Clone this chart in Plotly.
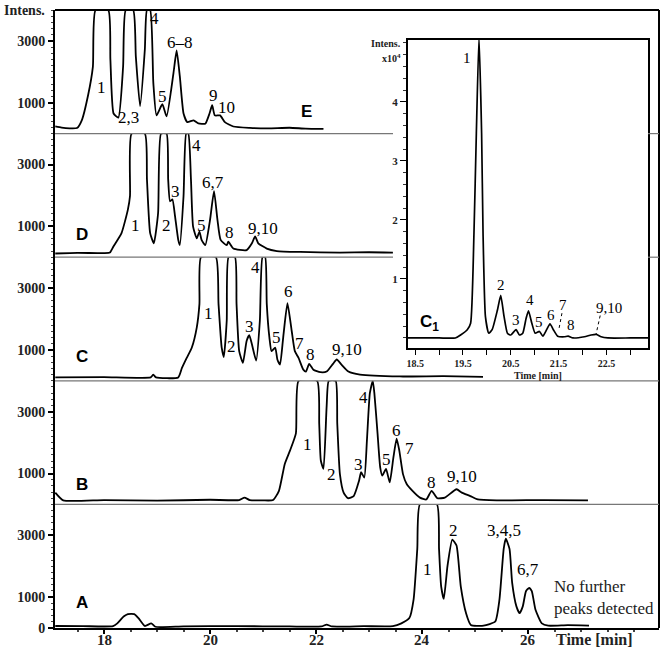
import plotly.graph_objects as go

# ---------------- data (time [min], intensity) ----------------
E_time = [17.08, 17.2, 17.35, 17.49, 17.58, 17.70, 17.79, 17.84, 18.08, 18.12,
          18.18, 18.27, 18.36, 18.41, 18.55, 18.60, 18.68, 18.77, 18.81, 18.87,
          18.93, 18.99, 19.10, 19.18, 19.31, 19.37, 19.43, 19.50, 19.57, 19.69,
          19.78, 19.91, 19.99, 20.04, 20.09, 20.19, 20.28, 20.44, 20.75, 21.1,
          21.5, 21.8, 22.14]
E_int = [230, 190, 170, 180, 430, 1250, 2170, 4000, 4000, 2400,
         650, 515, 2170, 4000, 4000, 2500, 885, 2720, 4000, 4000,
         1640, 590, 950, 560, 1960, 2690, 1850, 650, 370, 430,
         330, 320, 650, 920, 590, 590, 370, 230, 185, 170,
         190, 160, 150]

D_time = [17.08, 17.5, 18.0, 18.11, 18.175, 18.33, 18.45, 18.49, 18.52, 18.77,
          18.81, 18.87, 18.94, 19.02, 19.075, 19.18, 19.21, 19.245, 19.29, 19.34,
          19.40, 19.43, 19.50, 19.55, 19.59, 19.64, 19.68, 19.75, 19.80, 19.84,
          19.91, 20.0, 20.075, 20.14, 20.20, 20.315, 20.345, 20.44, 20.69, 20.79,
          20.85, 20.91, 21.07, 21.26, 21.7, 22.45, 23.0, 23.45]
D_int = [120, 140, 130, 150, 340, 780, 1540, 1980, 4000, 4000,
         2520, 780, 450, 1430, 4000, 4000, 2520, 1810, 1870, 1320,
         560, 390, 1980, 4000, 4000, 2520, 990, 610, 830, 560,
         390, 1210, 2140, 1210, 560, 390, 500, 280, 230, 450,
         670, 450, 280, 200, 170, 150, 160, 150]

C_time = [17.08, 18.0, 18.88, 18.93, 18.98, 19.40, 19.47, 19.56, 19.655, 19.75,
          19.80, 19.83, 20.11, 20.16, 20.22, 20.26, 20.315, 20.35, 20.47, 20.50,
          20.55, 20.62, 20.69, 20.74, 20.79, 20.87, 20.94, 20.99, 21.04, 21.07,
          21.12, 21.16, 21.23, 21.27, 21.32, 21.38, 21.46, 21.54, 21.60, 21.67,
          21.76, 21.81, 21.87, 21.95, 22.08, 22.20, 22.32, 22.39, 22.48, 22.61,
          22.83, 23.58, 24.4, 25.15]
C_int = [110, 120, 110, 200, 110, 110, 415, 740, 1070, 1730,
         2490, 4000, 4000, 2490, 1070, 770, 1950, 4000, 4000, 2490,
         960, 580, 1290, 1475, 1180, 650, 1950, 4000, 4000, 2490,
         1400, 960, 1070, 690, 525, 1400, 2510, 1620, 960, 740,
         360, 300, 550, 360, 280, 300, 550, 690, 525, 300,
         200, 140, 150, 130]

B_time = [17.08, 17.23, 18.0, 19.0, 20.0, 20.55, 20.65, 20.75, 21.0, 21.19,
          21.30, 21.41, 21.51, 21.62, 21.67, 22.02, 22.06, 22.09, 22.14, 22.20,
          22.24, 22.37, 22.40, 22.45, 22.52, 22.60, 22.71, 22.81, 22.85, 22.91,
          22.96, 23.015, 23.07, 23.10, 23.16, 23.21, 23.25, 23.32, 23.39, 23.46,
          23.52, 23.57, 23.64, 23.71, 23.82, 23.96, 24.08, 24.18, 24.29, 24.43,
          24.65, 24.75, 24.91, 25.05, 25.41, 26.3, 27.13]
B_int = [380, 130, 140, 120, 150, 140, 220, 140, 130, 140,
         440, 1310, 1750, 2300, 4000, 4000, 2600, 1420, 1150, 3180,
         4000, 4000, 2620, 980, 380, 200, 270, 760, 1040, 870,
         2080, 3600, 4000, 3600, 2300, 1200, 930, 1150, 710, 1530,
         2130, 1750, 980, 660, 440, 220, 160, 440, 200, 220,
         490, 380, 270, 160, 130, 140, 130]

A_time = [17.08, 17.6, 18.17, 18.25, 18.37, 18.45, 18.57, 18.65, 18.77, 18.89,
          18.97, 19.5, 20.5, 21.5, 22.1, 22.2, 22.3, 22.9, 23.45, 23.61,
          23.76, 23.84, 23.91, 23.96, 24.28, 24.32, 24.36, 24.41, 24.48, 24.57,
          24.65, 24.73, 24.83, 24.92, 25.16, 25.38, 25.46, 25.54, 25.58, 25.65,
          25.70, 25.78, 25.84, 25.90, 25.96, 26.02, 26.07, 26.14, 26.26, 26.38,
          26.75, 27.15]
A_int = [65, 60, 60, 150, 370, 450, 450, 320, 65, 150,
         40, 55, 60, 50, 50, 110, 50, 60, 60, 150,
         320, 920, 2560, 4000, 4000, 2560, 1350, 940, 2010, 2860,
         2670, 1350, 480, 100, 75, 210, 920, 2560, 2890, 2560,
         1460, 700, 480, 700, 1190, 1300, 1190, 590, 150, 75,
         90, 75]

# inset C1 (intensity x10^4)
C1_time = [18.35, 19.0, 19.34, 19.45, 19.59, 19.66, 19.73, 19.78, 19.835, 19.89,
           19.92, 19.97, 20.04, 20.11, 20.22, 20.29, 20.36, 20.43, 20.50, 20.61,
           20.68, 20.75, 20.82, 20.87, 20.94, 21.01, 21.10, 21.17, 21.25, 21.32,
           21.39, 21.48, 21.62, 21.70, 21.80, 22.04, 22.18, 22.29, 22.39, 22.53,
           23.0, 23.37]
C1_int = [0.0, 0.0, 0.0, 0.05, 0.14, 0.25, 1.77, 3.47, 5.1, 3.47,
          1.77, 0.36, 0.08, 0.14, 0.47, 0.72, 0.36, 0.08, 0.05, 0.14,
          0.05, 0.08, 0.33, 0.46, 0.25, 0.08, 0.11, 0.03, 0.14, 0.24,
          0.14, 0.03, 0.02, 0.03, 0.0, 0.02, 0.05, 0.06, 0.02, 0.0,
          0.0, 0.0]

# peak labels
E_lab = ["1", "2,3", "4", "5", "6\u20138", "9", "10"]
E_lab_t = [17.955, 18.46, 18.96, 19.10, 19.43, 20.06, 20.31]
E_lab_i = [1500, 535, 3730, 1210, 2940, 1245, 860]

D_lab = ["1", "2", "3", "4", "5", "6,7", "8", "9,10"]
D_lab_t = [18.60, 19.18, 19.35, 19.75, 19.83, 20.06, 20.36, 21.0]
D_lab_i = [1015, 1015, 2140, 3600, 1030, 2415, 800, 940]

C_lab = ["1", "2", "3", "4", "5", "6", "7", "8", "9,10"]
C_lab_t = [19.97, 20.41, 20.74, 20.85, 21.25, 21.48, 21.69, 21.89, 22.58]
C_lab_i = [2185, 1125, 1750, 3670, 1400, 2875, 1200, 850, 1015]

B_lab = ["1", "2", "3", "4", "5", "6", "7", "8", "9,10"]
B_lab_t = [21.84, 22.29, 22.81, 22.89, 23.32, 23.51, 23.76, 24.18, 24.75]
B_lab_i = [1930, 980, 1290, 3475, 1440, 2380, 1800, 710, 900]

A_lab = ["1", "2", "3,4,5", "6,7"]
A_lab_t = [24.10, 24.60, 25.55, 26.0]
A_lab_i = [1900, 3160, 3160, 1900]

C1_lab = ["1", "2", "3", "4", "5", "6", "7", "8", "9,10"]
C1_lab_t = [19.59, 20.29, 20.60, 20.895, 21.08, 21.34, 21.59, 21.76, 22.55]
C1_lab_i = [4.75, 0.90, 0.31, 0.64, 0.27, 0.39, 0.56, 0.22, 0.51]

panel_names = ["A", "B", "C", "D", "E"]
panel_name_t = [17.58, 17.58, 17.58, 17.58, 21.82]
panel_name_i = [820, 655, 790, 720, 720]

main_ticks = [18, 20, 22, 24, 26]
inset_ticks = [18.5, 19.5, 20.5, 21.5, 22.5]

# ---------------- figure ----------------
SERIF = "Liberation Serif, Times New Roman, serif"
SANS = "Liberation Sans, Arial, sans-serif"

fig = go.Figure()
panels = [
    ("y", A_time, A_int, A_lab, A_lab_t, A_lab_i),
    ("y2", B_time, B_int, B_lab, B_lab_t, B_lab_i),
    ("y3", C_time, C_int, C_lab, C_lab_t, C_lab_i),
    ("y4", D_time, D_int, D_lab, D_lab_t, D_lab_i),
    ("y5", E_time, E_int, E_lab, E_lab_t, E_lab_i),
]
annotations = []
for k, (ya, tt, ii, lab, lt, li) in enumerate(panels):
    fig.add_trace(go.Scatter(x=tt, y=ii, mode="lines", xaxis="x", yaxis=ya,
                             line=dict(color="black", width=1.8, shape="spline", smoothing=0.5),
                             showlegend=False, hoverinfo="skip"))
    for s, x, y in zip(lab, lt, li):
        annotations.append(dict(x=x, y=y, xref="x", yref=ya, text=s, showarrow=False,
                                font=dict(family=SERIF, size=17, color="black")))
    annotations.append(dict(x=panel_name_t[k], y=panel_name_i[k], xref="x", yref=ya,
                            text=panel_names[k], showarrow=False,
                            font=dict(family=SANS, size=17, color="black", weight="bold")))

fig.add_trace(go.Scatter(x=C1_time, y=C1_int, mode="lines", xaxis="x2", yaxis="y6",
                         line=dict(color="black", width=1.7, shape="spline", smoothing=0.5),
                         showlegend=False, hoverinfo="skip"))
for s, x, y in zip(C1_lab, C1_lab_t, C1_lab_i):
    annotations.append(dict(x=x, y=y, xref="x2", yref="y6", text=s, showarrow=False,
                            font=dict(family=SERIF, size=15, color="black")))
annotations.append(dict(x=18.8, y=0.25, xref="x2", yref="y6", text="C<sub>1</sub>",
                        showarrow=False, font=dict(family=SANS, size=17, color="black", weight="bold")))

# main x tick labels drawn as text just below the axis
for v in main_ticks:
    annotations.append(dict(x=v, y=-0.0194, xref="x", yref="paper", xanchor="center",
                            yanchor="middle", text=str(v), showarrow=False,
                            font=dict(family=SERIF, size=15, color="#222", weight="bold")))

# other texts
annotations += [
    dict(x=-0.088, y=1.0, xref="paper", yref="paper", xanchor="left", yanchor="middle",
         text="Intens.", showarrow=False, font=dict(family=SERIF, size=14, color="#222", weight="bold")),
    dict(x=0.894, y=-0.0194, xref="paper", yref="paper", xanchor="center", yanchor="middle",
         text="Time [min]", showarrow=False, font=dict(family=SERIF, size=16, color="#222", weight="bold")),
    dict(x=26.45, y=985, xref="x", yref="y", xanchor="left", yanchor="middle", align="left",
         text="No further<br>peaks detected", showarrow=False,
         font=dict(family=SERIF, size=17, color="#222")),
    dict(x=0.5762, y=0.9466, xref="paper", yref="paper", xanchor="right", yanchor="middle",
         text="Intens.", showarrow=False, font=dict(family=SERIF, size=10, color="#222", weight="bold")),
    dict(x=0.5762, y=0.9223, xref="paper", yref="paper", xanchor="right", yanchor="middle",
         text="x10<sup>4</sup>", showarrow=False, font=dict(family=SERIF, size=10, color="#222", weight="bold")),
    dict(x=0.7997, y=0.409, xref="paper", yref="paper", xanchor="center", yanchor="middle",
         text="Time [min]", showarrow=False, font=dict(family=SERIF, size=10, color="#222", weight="bold")),
]

# frame / dividers
DIV = "#777"
gap_l, gap_r = 0.5596, 0.9818
shapes = [
    dict(type="line", xref="paper", yref="paper", x0=0, x1=1, y0=1, y1=1, line=dict(color="black", width=2)),
    dict(type="line", xref="paper", yref="paper", x0=1, x1=1, y0=0, y1=1, line=dict(color="black", width=2)),
    dict(type="line", xref="paper", yref="paper", x0=0, x1=1, y0=0.2, y1=0.2, line=dict(color=DIV, width=1.2)),
    dict(type="line", xref="paper", yref="paper", x0=0, x1=1, y0=0.4, y1=0.4, line=dict(color=DIV, width=1.2)),
]
for yy in (0.6, 0.8):
    shapes.append(dict(type="line", xref="paper", yref="paper", x0=0, x1=gap_l, y0=yy, y1=yy,
                       line=dict(color=DIV, width=1.2)))
    shapes.append(dict(type="line", xref="paper", yref="paper", x0=gap_r, x1=1, y0=yy, y1=yy,
                       line=dict(color=DIV, width=1.2)))
# leader lines in inset
shapes.append(dict(type="line", xref="x2", yref="y6", x0=21.57, x1=21.50, y0=0.42, y1=0.12,
                   line=dict(color="black", width=1, dash="dot")))
shapes.append(dict(type="line", xref="x2", yref="y6", x0=22.37, x1=22.28, y0=0.38, y1=0.05,
                   line=dict(color="black", width=1, dash="dot")))


def yax(domain, tickvals):
    return dict(domain=domain, range=[0, 4000], anchor="x", showline=True, linecolor="black",
                linewidth=2, ticks="outside", ticklen=5, tickwidth=1.5, tickcolor="black",
                tickmode="array", tickvals=tickvals, automargin=False,
                tickfont=dict(family=SERIF, size=14, color="#222", weight="bold"),
                showgrid=False, zeroline=False,
                minor=dict(ticks="outside", ticklen=2, dtick=200, tickcolor="#444", tickwidth=1))


fig.update_layout(
    width=666, height=649, margin=dict(l=55, r=7, t=10, b=21, autoexpand=False),
    paper_bgcolor="white", plot_bgcolor="white", showlegend=False,
    xaxis=dict(domain=[0, 1], range=[17.075, 28.47], anchor="y", showline=True, linecolor="black",
               linewidth=1.5, ticks="outside", ticklen=4, tickwidth=1.5, tickcolor="black",
               tickmode="array", tickvals=main_ticks, showticklabels=False,
               showgrid=False, zeroline=False, automargin=False,
               minor=dict(ticks="outside", ticklen=2, dtick=0.5, tick0=17, tickcolor="#444")),
    yaxis=yax([0.0, 0.2], [0, 1000, 3000]),
    yaxis2=yax([0.2, 0.4], [1000, 3000]),
    yaxis3=yax([0.4, 0.6], [1000, 3000]),
    yaxis4=yax([0.6, 0.8], [1000, 3000]),
    yaxis5=yax([0.8, 1.0], [1000, 3000]),
    xaxis2=dict(domain=[0.5844, 0.9818], range=[18.35, 23.37], anchor="y6", showline=True,
                mirror=True, linecolor="black", linewidth=2, ticks="outside", ticklen=5,
                tickwidth=1.2, tickcolor="black", tickmode="array", tickvals=inset_ticks,
                ticktext=[str(v) for v in inset_ticks], automargin=False,
                tickfont=dict(family=SERIF, size=10, color="#222", weight="bold"),
                showgrid=False, zeroline=False,
                minor=dict(ticks="outside", ticklen=5, dtick=0.5, tick0=18.5, tickcolor="black")),
    yaxis6=dict(domain=[0.4531, 0.9515], range=[-0.17, 5.05], anchor="x2", showline=True,
                mirror=True, linecolor="black", linewidth=2, ticks="outside", ticklen=6,
                tickwidth=1.2, tickcolor="black", tickmode="array", tickvals=[1, 2, 3, 4],
                tickfont=dict(family=SERIF, size=11, color="#222", weight="bold"),
                showgrid=False, zeroline=False, automargin=False,
                minor=dict(ticks="outside", ticklen=3, dtick=0.2, tick0=0, tickcolor="#333")),
    annotations=annotations, shapes=shapes,
)

fig.write_html("out.html", config={"displayModeBar": False},
               post_script="document.body.style.margin='0';document.body.style.padding='0';")
